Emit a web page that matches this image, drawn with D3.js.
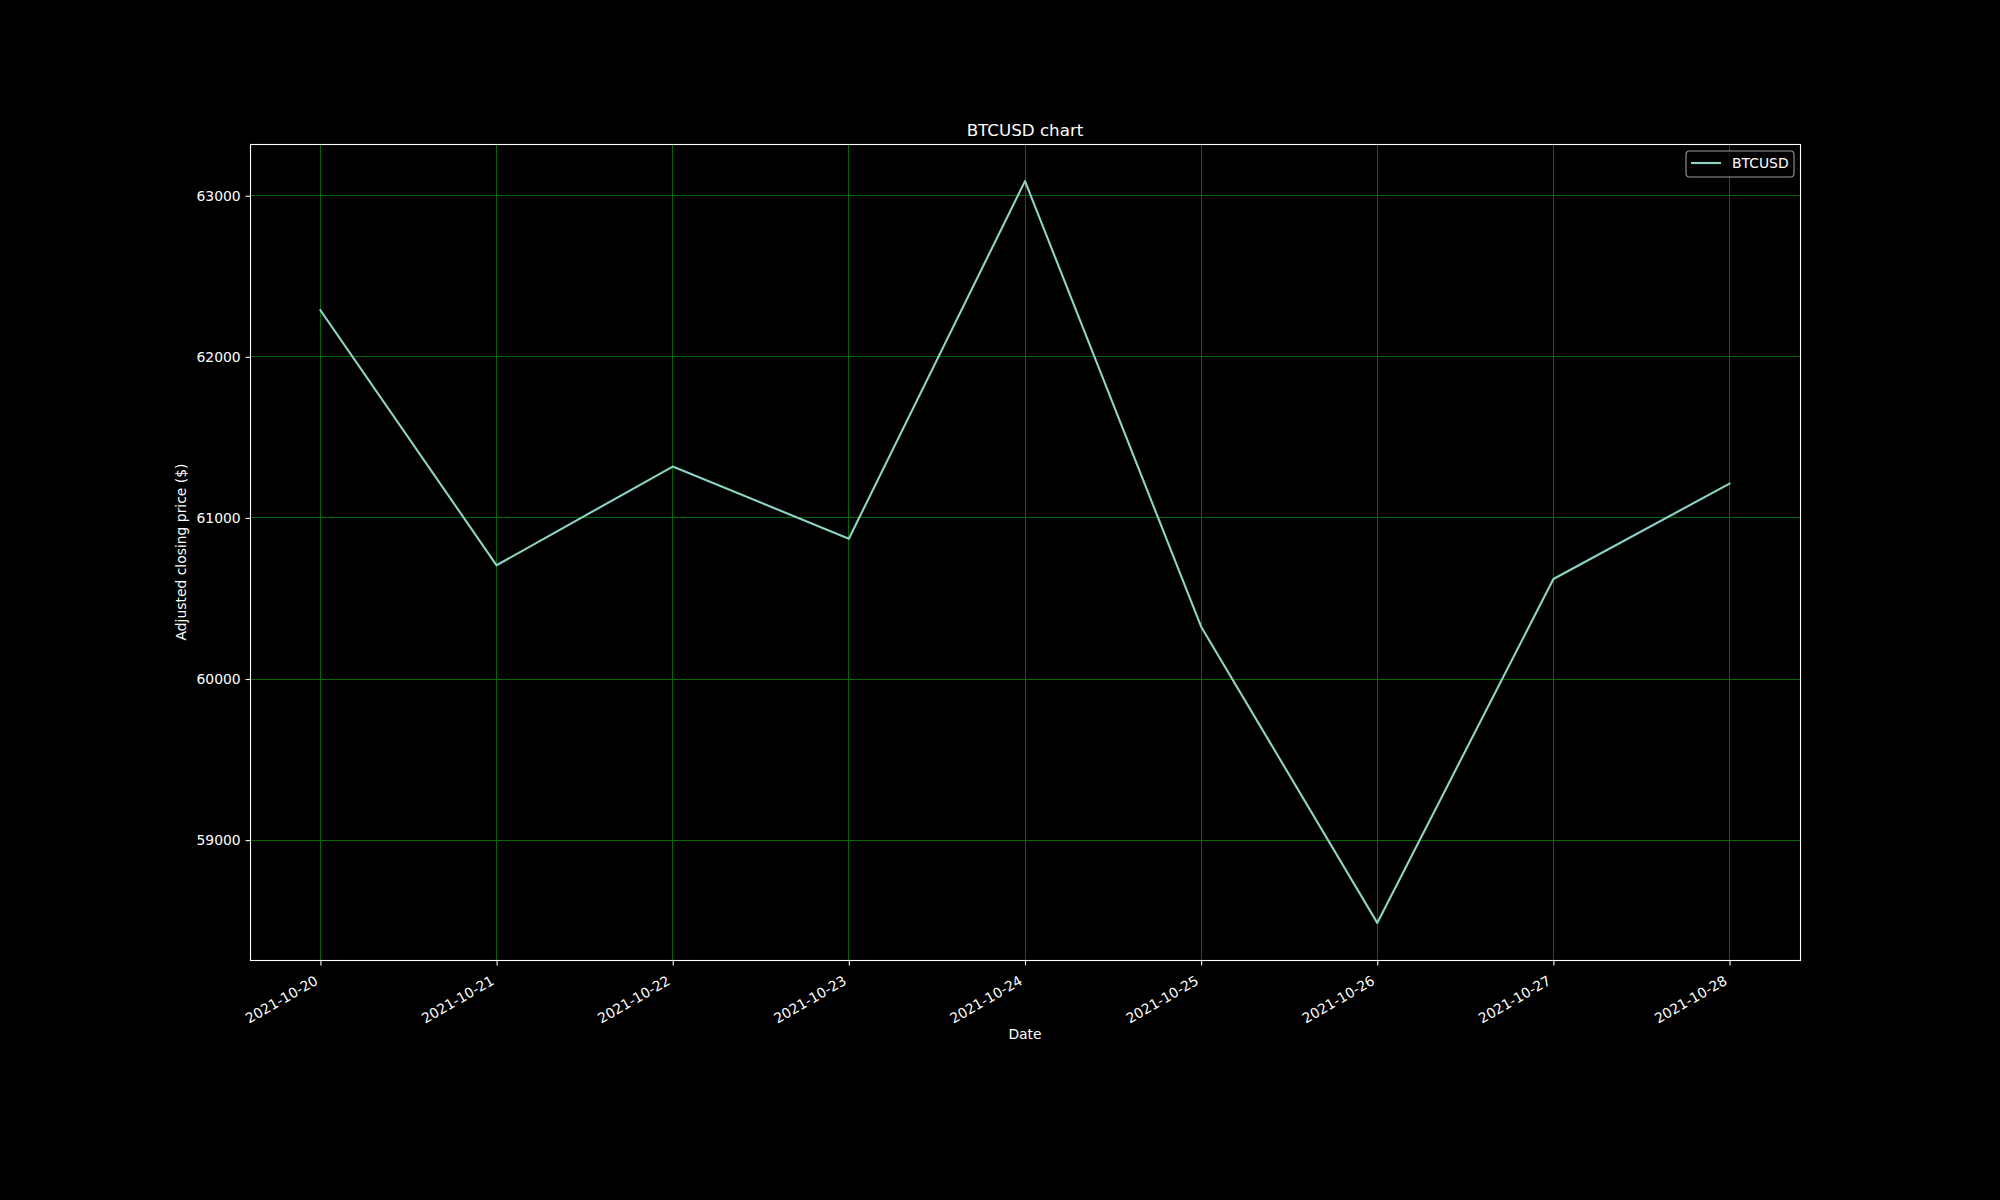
<!DOCTYPE html>
<html>
<head>
<meta charset="utf-8">
<script src="https://cdn.jsdelivr.net/npm/d3@7"></script>
<style>
  html, body { margin: 0; padding: 0; background: #000; }
  svg { display: block; font-family: "DejaVu Sans", sans-serif; }
</style>
</head>
<body>
<svg id="chart" width="2000" height="1200"></svg>
<script>
// ---- Data ----
const dates = ["2021-10-20","2021-10-21","2021-10-22","2021-10-23","2021-10-24","2021-10-25","2021-10-26","2021-10-27","2021-10-28"];
const closePrices = [62289, 60706, 61319, 60871, 63091, 60325, 58486, 60621, 61213];
const yTicks = [59000, 60000, 61000, 62000, 63000];
const seriesName = "BTCUSD";
const titleText = "BTCUSD chart";
const xLabel = "Date";
const yLabel = "Adjusted closing price ($)";

(function () {
// ---- Layout ----
const W = 2000, H = 1200;
const mLeft = 250, mRight = 1800, mTop = 144, mBottom = 960;
const svg = d3.select("#chart");
svg.append("rect").attr("width", W).attr("height", H).attr("fill", "#000");

const parse = d3.timeParse("%Y-%m-%d");
const xDates = dates.map(parse);
const data = xDates.map((d, i) => ({ date: d, value: closePrices[i] }));

// matplotlib-like 5% margins
const xExt = d3.extent(xDates);
const xSpan = xExt[1] - xExt[0];
const x = d3.scaleTime()
  .domain([new Date(+xExt[0] - 0.05 * xSpan), new Date(+xExt[1] + 0.05 * xSpan)])
  .range([mLeft, mRight]);
const yExt = d3.extent(closePrices);
const ySpan = yExt[1] - yExt[0];
const y = d3.scaleLinear()
  .domain([yExt[0] - 0.05 * ySpan, yExt[1] + 0.05 * ySpan])
  .range([mBottom, mTop]);

// ---- Grid ----
const grid = svg.append("g").attr("shape-rendering", "crispEdges");
grid.selectAll("line.gx").data(xDates).enter().append("line")
  .attr("x1", d => x(d)).attr("x2", d => x(d))
  .attr("y1", mTop).attr("y2", mBottom)
  .attr("stroke", "#006a00").attr("stroke-width", 1);
grid.selectAll("line.gy").data(yTicks).enter().append("line")
  .attr("x1", mLeft).attr("x2", mRight)
  .attr("y1", d => y(d)).attr("y2", d => y(d))
  .attr("stroke", "#006a00").attr("stroke-width", 1);

// ---- Line ----
const line = d3.line().x(d => x(d.date)).y(d => y(d.value));
svg.append("path").datum(data)
  .attr("d", line)
  .attr("fill", "none")
  .attr("stroke", "#8dd3c7")
  .attr("stroke-width", 2.1)
  .attr("stroke-linejoin", "round")
  .attr("stroke-linecap", "square");

// ---- Frame ----
svg.append("rect")
  .attr("x", mLeft + 0.5).attr("y", mTop + 0.5)
  .attr("width", mRight - mLeft).attr("height", mBottom - mTop)
  .attr("fill", "none").attr("stroke", "#fff").attr("stroke-width", 1.1);

// ---- Axes ----
const xAxis = d3.axisBottom(x).tickValues(xDates).tickSize(4.9).tickPadding(0)
  .tickFormat(d3.timeFormat("%Y-%m-%d"));
const gx = svg.append("g").attr("transform", `translate(0,${mBottom + 0.5})`).call(xAxis);
gx.select(".domain").remove();
gx.selectAll(".tick line").attr("stroke", "#fff").attr("stroke-width", 1.1);
gx.selectAll(".tick text")
  .attr("fill", "#fff")
  .attr("font-size", "13.9px")
  .attr("font-family", "DejaVu Sans")
  .attr("text-anchor", "end")
  .attr("y", 0).attr("dy", 0)
  .attr("transform", "translate(-2,23) rotate(-30)");

const yAxis = d3.axisLeft(y).tickValues(yTicks).tickSize(4.9).tickPadding(4.9)
  .tickFormat(d3.format("d"));
const gy = svg.append("g").attr("transform", `translate(${mLeft + 0.5},0)`).call(yAxis);
gy.select(".domain").remove();
gy.selectAll(".tick line").attr("stroke", "#fff").attr("stroke-width", 1.1);
gy.selectAll(".tick text")
  .attr("fill", "#fff")
  .attr("font-size", "13.9px")
  .attr("font-family", "DejaVu Sans");

// ---- Labels ----
svg.append("text")
  .attr("x", (mLeft + mRight) / 2).attr("y", 136)
  .attr("text-anchor", "middle")
  .attr("fill", "#fff").attr("font-size", "16.7px")
  .text(titleText);
svg.append("text")
  .attr("x", (mLeft + mRight) / 2).attr("y", 1039)
  .attr("text-anchor", "middle")
  .attr("fill", "#fff").attr("font-size", "13.9px")
  .text(xLabel);
svg.append("text")
  .attr("transform", `translate(186,${(mTop + mBottom) / 2}) rotate(-90)`)
  .attr("text-anchor", "middle")
  .attr("fill", "#fff").attr("font-size", "13.9px")
  .text(yLabel);

// ---- Legend ----
const lg = svg.append("g");
lg.append("rect")
  .attr("x", 1686).attr("y", 151)
  .attr("width", 108).attr("height", 26)
  .attr("rx", 3.5).attr("ry", 3.5)
  .attr("fill", "#000").attr("fill-opacity", 0.8)
  .attr("stroke", "#9a9a9a").attr("stroke-width", 1.1);
lg.append("line")
  .attr("x1", 1691).attr("x2", 1721)
  .attr("y1", 163).attr("y2", 163)
  .attr("stroke", "#8dd3c7").attr("stroke-width", 2.1);
lg.append("text")
  .attr("x", 1732).attr("y", 168)
  .attr("fill", "#fff").attr("font-size", "13.9px")
  .text(seriesName);
})();
</script>
</body>
</html>
